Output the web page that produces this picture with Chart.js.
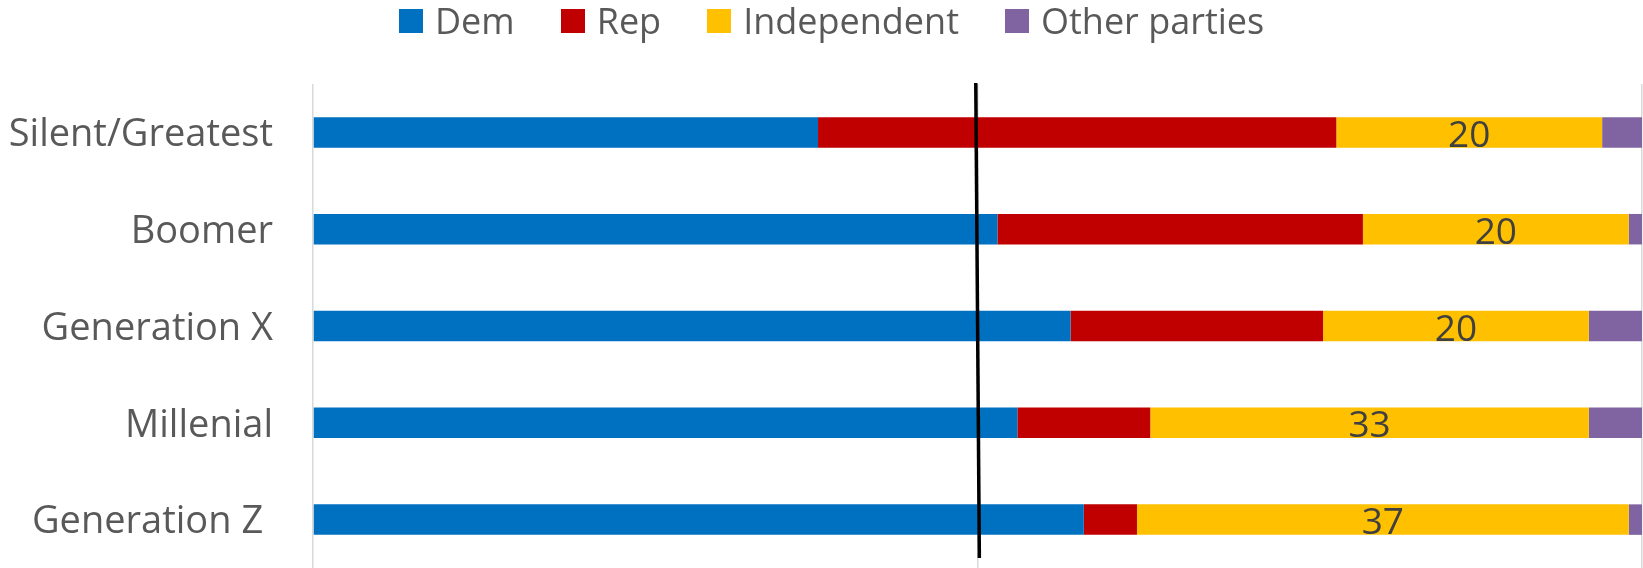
<!DOCTYPE html>
<html>
<head>
<meta charset="utf-8">
<title>Party identification by generation</title>
<script src="https://cdn.jsdelivr.net/npm/chart.js@4.4.1/dist/chart.umd.min.js"></script>
<style>
    html, body { margin: 0; padding: 0; background: #fff; }
    #wrap { position: relative; width: 1643px; height: 568px; }
    #wrap canvas { display: block; }
    #legend {
        position: absolute; top: -2px; left: 399px;
        display: flex; font-family: 'Open Sans', sans-serif; font-size: 36px; color: #595959;
    }
    .legend-item { display: flex; align-items: center; height: 46px; margin-right: 46px; }
    .legend-color { width: 24px; height: 24px; margin-right: 12px; }
    .legend-item span:last-child { line-height: 36px; white-space: nowrap; }
</style>
</head>
<body>
<div id="wrap">
    <canvas id="chart"></canvas>
    <div id="legend"></div>
</div>
<script>
// Data (percent of each generation)
const categories = ['Silent/Greatest', 'Boomer', 'Generation X', 'Millenial', 'Generation Z '];
const demValues = [38, 51.5, 57, 53, 58];
const repValues = [39, 27.5, 19, 10, 4];
const indValues = [20, 20, 20, 33, 37];
const otherValues = [3, 1, 4, 4, 1];
const seriesNames = ['Dem', 'Rep', 'Independent', 'Other parties'];
const seriesColors = ['#0070C0', '#C00000', '#FFC000', '#8064A2'];
const xTicks = [0, 50, 100];
// hand drawn 50% line, x value at top and at bottom (it leans slightly)
const midlineX = [49.87, 50.14];

const FONT = "'Open Sans', sans-serif";

// Labels only on the Independent segments
const segmentLabelPlugin = {
    id: 'segmentLabels',
    afterDatasetsDraw(chart) {
        const ctx = chart.ctx;
        chart.data.datasets.forEach((dataset, i) => {
            if (!dataset.showLabel) return;
            const meta = chart.getDatasetMeta(i);
            ctx.save();
            ctx.font = `37px ${FONT}`;
            ctx.fillStyle = '#404040';
            ctx.textAlign = 'center';
            ctx.textBaseline = 'alphabetic';
            meta.data.forEach((bar, j) => {
                const { x, y, base } = bar.getProps(['x', 'y', 'base'], true);
                ctx.fillText(String(dataset.data[j]), (x + base) / 2, y + 14.5);
            });
            ctx.restore();
        });
    }
};

// The black line at 50%
const midlinePlugin = {
    id: 'midline',
    afterDatasetsDraw(chart) {
        const { ctx, chartArea, scales } = chart;
        const xTop = scales.x.getPixelForValue(midlineX[0]);
        const xBottom = scales.x.getPixelForValue(midlineX[1]);
        ctx.save();
        ctx.strokeStyle = '#000';
        ctx.lineWidth = 3.5;
        ctx.beginPath();
        ctx.moveTo(xTop, chartArea.top - 1);
        ctx.lineTo(xBottom, chartArea.bottom - 10);
        ctx.stroke();
        ctx.restore();
    }
};

const seriesValues = [demValues, repValues, indValues, otherValues];

function buildLegend() {
    const legend = document.getElementById('legend');
    seriesNames.forEach((name, i) => {
        const item = document.createElement('div');
        item.className = 'legend-item';
        const box = document.createElement('span');
        box.className = 'legend-color';
        box.style.backgroundColor = seriesColors[i];
        const text = document.createElement('span');
        text.textContent = name;
        item.appendChild(box);
        item.appendChild(text);
        legend.appendChild(item);
    });
}

function drawChart() {
    const wrap = document.getElementById('wrap');
    const canvas = document.getElementById('chart');
    canvas.width = wrap.clientWidth;
    canvas.height = wrap.clientHeight;

    new Chart(canvas.getContext('2d'), {
        type: 'bar',
        data: {
            labels: categories,
            datasets: seriesNames.map((name, i) => ({
                label: name,
                data: seriesValues[i],
                backgroundColor: seriesColors[i],
                borderWidth: 0,
                categoryPercentage: 1,
                barPercentage: 0.315,
                showLabel: name === 'Independent'
            }))
        },
        options: {
            indexAxis: 'y',
            responsive: false,
            animation: false,
            layout: { padding: { top: 84, right: 1, bottom: 0, left: 0 } },
            plugins: {
                legend: { display: false },
                tooltip: { enabled: false }
            },
            scales: {
                x: {
                    stacked: true,
                    min: 0,
                    max: 100,
                    afterBuildTicks: scale => { scale.ticks = xTicks.map(v => ({ value: v })); },
                    grid: { color: '#d9d9d9', lineWidth: 1.5, drawTicks: false },
                    border: { display: false },
                    ticks: { display: false }
                },
                y: {
                    stacked: true,
                    grid: { display: false, drawTicks: false },
                    border: { display: false },
                    afterFit: scale => {
                        // fixed axis width, and no extra room above/below for the labels
                        scale.width = 313;
                        scale.paddingTop = 0;
                        scale.paddingBottom = 0;
                    },
                    ticks: {
                        padding: 40,
                        labelOffset: 3,
                        color: '#595959',
                        font: { family: FONT, size: 38 }
                    }
                }
            }
        },
        plugins: [midlinePlugin, segmentLabelPlugin]
    });
}

buildLegend();
document.fonts.load(`37px ${FONT}`).then(drawChart, drawChart);
</script>
</body>
</html>
